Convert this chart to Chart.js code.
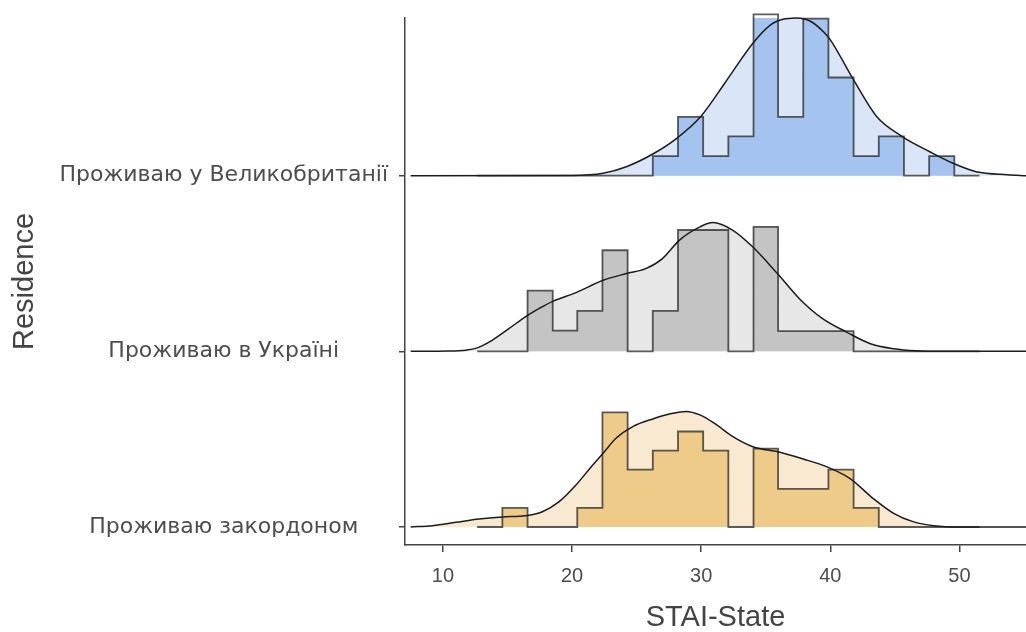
<!DOCTYPE html>
<html>
<head>
<meta charset="utf-8">
<script src="https://cdn.jsdelivr.net/npm/chart.js@4/dist/chart.umd.min.js"></script>
<style>
  html, body { margin: 0; padding: 0; background: #fff; }
  canvas { display: block; }
</style>
</head>
<body>
<canvas id="ridges" width="1026" height="632"></canvas>
<script>
// rows from bottom to top
var categories = ['Проживаю закордоном', 'Проживаю в Україні', 'Проживаю у Великобританії'];
var xTicks = [10, 20, 30, 40, 50];

// histogram bins (STAI-State)
var binEdges = [12.65, 14.6, 16.55, 18.5, 20.4, 22.35, 24.3, 26.25, 28.2, 30.15, 32.1,
  34.05, 35.95, 37.9, 39.85, 41.8, 43.75, 45.7, 47.65, 49.6, 51.55];
var countsAbroad = [0, 1, 0, 0, 1, 6, 3, 4, 5, 4, 0, 4, 2, 2, 3, 1, 0, 0, 0, 0];
var countsUkraine = [0, 0, 3, 1, 2, 5, 0, 2, 6, 6, 0, 6, 1, 1, 1, 0, 0, 0, 0, 0];
var countsUK = [0, 0, 0, 0, 0, 0, 0, 1, 3, 1, 2, 8, 3, 8, 5, 1, 2, 0, 1, 0];

// density curves
var densXAbroad = [7.5, 9.2, 11.0, 12.8, 14.6, 16.4, 17.7, 19.0, 20.3, 21.6, 22.4, 23.4, 24.7, 26.25,
  27.8, 28.8, 29.9, 31.2, 32.45, 34.0, 36.1, 37.9, 39.7, 41.5, 43.3, 44.9, 46.4, 48.0, 50.0, 55.2];
var densYAbroad = [0, 0.0010, 0.0035, 0.0060, 0.0075, 0.0084, 0.0114, 0.0189, 0.0313, 0.0463, 0.0550,
  0.0662, 0.0749, 0.0806, 0.0848, 0.0862, 0.0836, 0.0761, 0.0674, 0.0599, 0.0557, 0.0507, 0.0450,
  0.0363, 0.0214, 0.0102, 0.0040, 0.0010, 0, 0];

var densXUkraine = [7.5, 10.5, 11.8, 12.6, 13.8, 15.1, 16.55, 17.5, 18.5, 20.3, 22.4, 24.2, 25.7, 27.0,
  28.3, 29.9, 30.9, 32.45, 34.0, 35.9, 37.6, 39.4, 41.25, 43.1, 44.9, 46.7, 48.5, 55.2];
var densYUkraine = [0, 0.0002, 0.0009, 0.0024, 0.0082, 0.0169, 0.0269, 0.0323, 0.0373, 0.0438,
  0.0530, 0.0580, 0.0617, 0.0692, 0.0828, 0.0928, 0.0960, 0.0903, 0.0778, 0.0580, 0.0393, 0.0244,
  0.0144, 0.0057, 0.0020, 0.0004, 0, 0];

var densXUK = [7.5, 20.0, 22.4, 24.2, 26.25, 28.1, 30.0, 31.9, 34.0, 35.3, 36.4, 37.4, 38.5, 39.5,
  40.0, 41.8, 43.6, 45.5, 47.7, 49.5, 51.3, 53.7, 55.2];
var densYUK = [0, 0.0002, 0.0018, 0.0067, 0.0162, 0.0279, 0.0446, 0.0701, 0.0988, 0.1120, 0.1168,
  0.1177, 0.1150, 0.1070, 0.1013, 0.0714, 0.0440, 0.0296, 0.0179, 0.0093, 0.0030, 0.0007, 0];

// density -> row height
var SCALE = 7.635;

var rows = [
  { counts: countsAbroad, dx: densXAbroad, dy: densYAbroad, bar: '#eecb88', light: '#f8e9d0' },
  { counts: countsUkraine, dx: densXUkraine, dy: densYUkraine, bar: '#c4c4c4', light: '#e7e7e7' },
  { counts: countsUK, dx: densXUK, dy: densYUK, bar: '#a4c3ee', light: '#dae6f7' }
];

function histPoints(counts, base) {
  var n = counts.reduce(function (a, b) { return a + b; }, 0);
  var pts = [{ x: binEdges[0], y: base }];
  counts.forEach(function (c, i) {
    var w = binEdges[i + 1] - binEdges[i];
    var y = base + c / (n * w) * SCALE;
    pts.push({ x: binEdges[i], y: y }, { x: binEdges[i + 1], y: y });
  });
  pts.push({ x: binEdges[binEdges.length - 1], y: base });
  return pts;
}

function densPoints(xs, ys, base) {
  return xs.map(function (x, i) { return { x: x, y: base + ys[i] * SCALE }; });
}

var datasets = [];
rows.forEach(function (r, base) {
  var dens = densPoints(r.dx, r.dy, base);
  // light density area
  datasets.push({
    data: dens, showLine: true, pointRadius: 0, borderWidth: 0,
    backgroundColor: r.light, fill: { value: base },
    cubicInterpolationMode: 'monotone', order: 30
  });
  // histogram
  datasets.push({
    data: histPoints(r.counts, base), showLine: true, pointRadius: 0,
    borderWidth: 1.8, borderColor: 'rgba(30,30,30,0.72)', backgroundColor: r.bar,
    fill: { value: base }, tension: 0, order: 20, clip: false
  });
  // density outline
  datasets.push({
    data: dens, showLine: true, pointRadius: 0, borderWidth: 1.5,
    borderColor: '#1c1c1c', fill: false,
    cubicInterpolationMode: 'monotone', order: 10, clip: 3
  });
});

new Chart(document.getElementById('ridges'), {
  type: 'scatter',
  data: { datasets: datasets },
  options: {
    responsive: false,
    animation: false,
    devicePixelRatio: 1,
    layout: { padding: { top: 18, right: 0, bottom: 0, left: 0 } },
    plugins: { legend: { display: false }, tooltip: { enabled: false } },
    scales: {
      x: {
        type: 'linear',
        min: 7.06,
        max: 55.15,
        afterBuildTicks: function (scale) {
          scale.ticks = xTicks.map(function (v) { return { value: v }; });
        },
        afterFit: function (scale) { scale.height = 87; },
        grid: { drawOnChartArea: false, tickLength: 7, color: '#444', lineWidth: 1.5 },
        border: { display: true, color: '#444', width: 1.5 },
        ticks: {
          padding: 12,
          color: '#4d4d4d',
          font: { family: 'Liberation Sans', size: 20 }
        },
        title: {
          display: true,
          text: 'STAI-State',
          color: '#444',
          padding: { top: 0, bottom: 0 },
          font: { family: 'Liberation Sans', size: 29, lineHeight: 0.95 }
        }
      },
      y: {
        type: 'linear',
        min: -0.1025,
        max: 2.898,
        afterBuildTicks: function (scale) {
          scale.ticks = categories.map(function (c, i) { return { value: i }; });
        },
        afterFit: function (scale) {
          scale.width = 405;
          scale.paddingTop = 0;
          scale.paddingBottom = 0;
        },
        grid: { drawOnChartArea: false, tickLength: 6, color: '#444', lineWidth: 1.5 },
        border: { display: true, color: '#444', width: 1.5 },
        ticks: {
          padding: 11,
          crossAlign: 'center',
          color: '#4d4d4d',
          font: { family: 'DejaVu Sans', size: 22 },
          callback: function (value) { return categories[value]; }
        },
        title: {
          display: true,
          text: 'Residence',
          color: '#444',
          padding: { top: 8, bottom: 0 },
          font: { family: 'Liberation Sans', size: 29 }
        }
      }
    }
  }
});
</script>
</body>
</html>
